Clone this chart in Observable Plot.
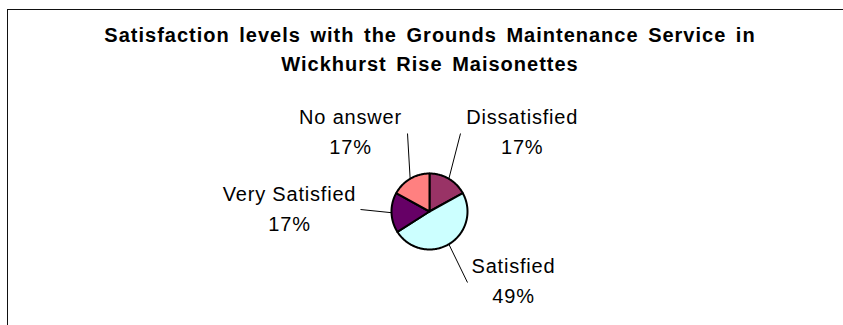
<!DOCTYPE html>
<html>
<head>
<meta charset="utf-8">
<script src="https://cdn.jsdelivr.net/npm/d3@7"></script>
<script src="https://cdn.jsdelivr.net/npm/@observablehq/plot@0.6"></script>
<style>
  html, body { margin: 0; padding: 0; background: #fff; }
  body { position: relative; width: 843px; height: 325px; overflow: hidden; }
  #frame {
    position: absolute; left: 7px; top: 9px; width: 900px; height: 400px;
    border-left: 1px solid #111; border-top: 1px solid #111;
  }
  #title {
    position: relative; box-sizing: border-box; height: 79px; padding-top: 21px;
    margin-left: 8px; width: 844px; text-align: center;
    font: bold 20px "Liberation Sans", Arial, sans-serif; line-height: 29px;
    letter-spacing: 1px; word-spacing: 3px; color: #000;
  }
  #chart { position: relative; }
  #chart svg { display: block; }
  #chart text { letter-spacing: 0.8px; }
</style>
</head>
<body>
<div id="frame"></div>
<div id="title">Satisfaction levels with the Grounds Maintenance Service in<br>Wickhurst Rise Maisonettes</div>
<div id="chart"></div>
<script>
// Survey responses, in the order the slices run clockwise from 12 o'clock
const categories = ["Dissatisfied", "Satisfied", "Very Satisfied", "No answer"];
const percentages = [17, 49, 17, 17];
const sliceColors = ["#993366", "#CCFFFF", "#660066", "#FF8080"];

// Layout: pie centre and radius in SVG pixels
const W = 843, H = 246;
const R = 38, cx = 429, cy = 132;
// Label anchors (last-line baseline) and leader-line ends, in px from the pie centre, y up
const labelSpots = [[92.7, 58], [84, -91.5], [-140, -19], [-79, 58]];
const leaderEnds = [[31, 78], [38, -71], [-69, 2], [-22, 78]];

const arcs = d3.pie().sort(null).startAngle(0).endAngle(2 * Math.PI)(percentages);
const polar = (a, r) => ({x: r * Math.sin(a), y: r * Math.cos(a)});

// Slice outlines: centre -> arc -> centre
const slices = arcs.map((a, i) => {
  const n = Math.max(2, Math.ceil((a.endAngle - a.startAngle) / (Math.PI / 180)));
  const pts = [{x: 0, y: 0}];
  for (let k = 0; k <= n; ++k) pts.push(polar(a.startAngle + (a.endAngle - a.startAngle) * k / n, R));
  pts.push({x: 0, y: 0});
  return {points: pts, color: sliceColors[i]};
});

const leaders = arcs.map((a, i) => {
  const mid = (a.startAngle + a.endAngle) / 2;
  const s = polar(mid, R);
  return {x1: s.x, y1: s.y, x2: leaderEnds[i][0], y2: leaderEnds[i][1]};
});

const labels = categories.map((c, i) => ({
  x: labelSpots[i][0], y: labelSpots[i][1], text: `${c}\n${percentages[i]}%`
}));

const chart = Plot.plot({
  width: W, height: H, margin: 0,
  x: {domain: [-R, R], range: [cx - R, cx + R], axis: null},
  y: {domain: [-R, R], range: [cy + R, cy - R], axis: null},
  style: {fontFamily: "'Liberation Sans', Arial, sans-serif", background: "transparent"},
  marks: [
    ...slices.map(s => Plot.line(s.points, {
      x: "x", y: "y", fill: s.color, stroke: "#000", strokeWidth: 2,
      strokeLinejoin: "round", curve: "linear"
    })),
    Plot.link(leaders, {x1: "x1", y1: "y1", x2: "x2", y2: "y2", stroke: "#000", strokeWidth: 1}),
    Plot.text(labels, {
      x: "x", y: "y", text: "text", fontSize: 20, lineHeight: 1.48,
      lineAnchor: "bottom", textAnchor: "middle", fill: "#000"
    })
  ]
});
document.getElementById("chart").appendChild(chart);
</script>
</body>
</html>
